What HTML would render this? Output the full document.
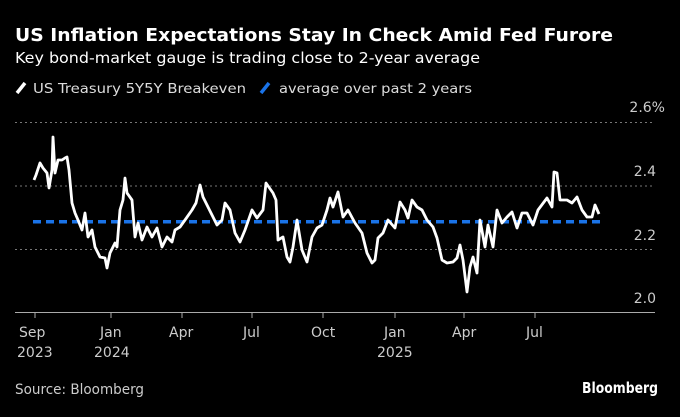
<!DOCTYPE html>
<html><head><meta charset="utf-8"><style>
body{margin:0;background:#000;width:680px;height:413px;overflow:hidden;font-family:"DejaVu Sans",sans-serif;color:#fff}
</style></head><body>
<svg width="680" height="413" xmlns="http://www.w3.org/2000/svg" font-family="DejaVu Sans, sans-serif">
<rect width="680" height="413" fill="#000"/>
<text x="15" y="41" font-size="18" font-weight="bold" fill="#fff" textLength="598" lengthAdjust="spacingAndGlyphs">US Inflation Expectations Stay In Check Amid Fed Furore</text>
<text x="15" y="63" font-size="15.5" fill="#fff" textLength="465" lengthAdjust="spacingAndGlyphs">Key bond-market gauge is trading close to 2-year average</text>
<line x1="17" y1="93" x2="25" y2="83" stroke="#fff" stroke-width="3.5"/>
<text x="33" y="93" font-size="13.5" fill="#ddd" textLength="213" lengthAdjust="spacingAndGlyphs">US Treasury 5Y5Y Breakeven</text>
<line x1="261" y1="93" x2="269" y2="83" stroke="#1a73e8" stroke-width="3.5"/>
<text x="279" y="93" font-size="13.5" fill="#ddd" textLength="193" lengthAdjust="spacingAndGlyphs">average over past 2 years</text>
<g stroke="#777" stroke-width="1" stroke-dasharray="2,3">
<line x1="15" y1="122.5" x2="655" y2="122.5"/>
<line x1="15" y1="186" x2="655" y2="186"/>
<line x1="15" y1="249.5" x2="655" y2="249.5"/>
</g>
<line x1="15" y1="312.5" x2="655" y2="312.5" stroke="#aaa" stroke-width="1"/>
<g stroke="#aaa" stroke-width="1">
<line x1="35" y1="312" x2="35" y2="318"/><line x1="111" y1="312" x2="111" y2="318"/><line x1="182" y1="312" x2="182" y2="318"/><line x1="252" y1="312" x2="252" y2="318"/><line x1="323" y1="312" x2="323" y2="318"/><line x1="395" y1="312" x2="395" y2="318"/><line x1="464" y1="312" x2="464" y2="318"/><line x1="535" y1="312" x2="535" y2="318"/>
</g>
<g font-size="14" fill="#ccc" text-anchor="end">
<text x="665" y="112">2.6%</text><text x="656" y="176">2.4</text><text x="656" y="240">2.2</text><text x="656" y="303">2.0</text>
</g>
<g font-size="14" fill="#ccc">
<text x="19" y="337">Sep</text><text x="17" y="357">2023</text>
<text x="100" y="337">Jan</text><text x="94" y="357">2024</text>
<text x="169" y="337">Apr</text>
<text x="243" y="337">Jul</text>
<text x="311" y="337">Oct</text>
<text x="384" y="337">Jan</text><text x="377" y="357">2025</text>
<text x="452" y="337">Apr</text>
<text x="526" y="337">Jul</text>
</g>
<line x1="33" y1="221.7" x2="600" y2="221.7" stroke="#1a73e8" stroke-width="3.5" stroke-dasharray="8,5"/>
<polyline fill="none" stroke="#fff" stroke-width="2.8" stroke-linejoin="round" points="34,180 36,175 40,163 43,168 47,173 49,188 52,170 53,137 55,173 58,160 62,160 65,158 67,157 69,170 72,203 75,213 78,220 82,230 85,213 88,237 92,230 95,247 100,257 105,258 107,268 110,253 115,243 117,247 120,210 123,200 125,178 127,193 132,200 135,237 138,223 142,240 147,227 152,237 157,228 162,247 167,237 172,242 175,230 180,227 185,220 192,210 196,203 200,185 203,197 208,207 213,217 217,225 222,220 225,203 230,210 235,233 240,242 245,230 252,210 257,218 263,210 266,183 273,193 276,200 278,240 283,237 287,257 290,262 293,247 297,220 302,250 307,262 312,237 317,228 322,225 327,210 330,198 333,207 338,192 343,217 348,210 355,223 362,233 367,253 372,263 375,260 378,238 383,233 388,220 395,228 400,202 405,210 408,218 412,200 417,207 422,210 427,220 433,227 437,238 442,260 447,263 453,262 457,258 460,245 463,260 467,292 470,267 473,257 477,273 480,220 485,247 488,225 493,247 497,210 502,223 507,217 512,212 517,228 522,213 527,213 533,225 538,210 547,198 552,207 554,172 557,173 560,200 567,200 572,203 577,197 582,210 587,217 592,217 595,205 599,214"/>
<text x="15" y="394" font-size="14" fill="#ccc" textLength="129" lengthAdjust="spacingAndGlyphs">Source: Bloomberg</text>
<text x="658" y="393" font-size="15" font-weight="bold" fill="#fff" text-anchor="end" textLength="76" lengthAdjust="spacingAndGlyphs">Bloomberg</text>
</svg>
</body></html>
